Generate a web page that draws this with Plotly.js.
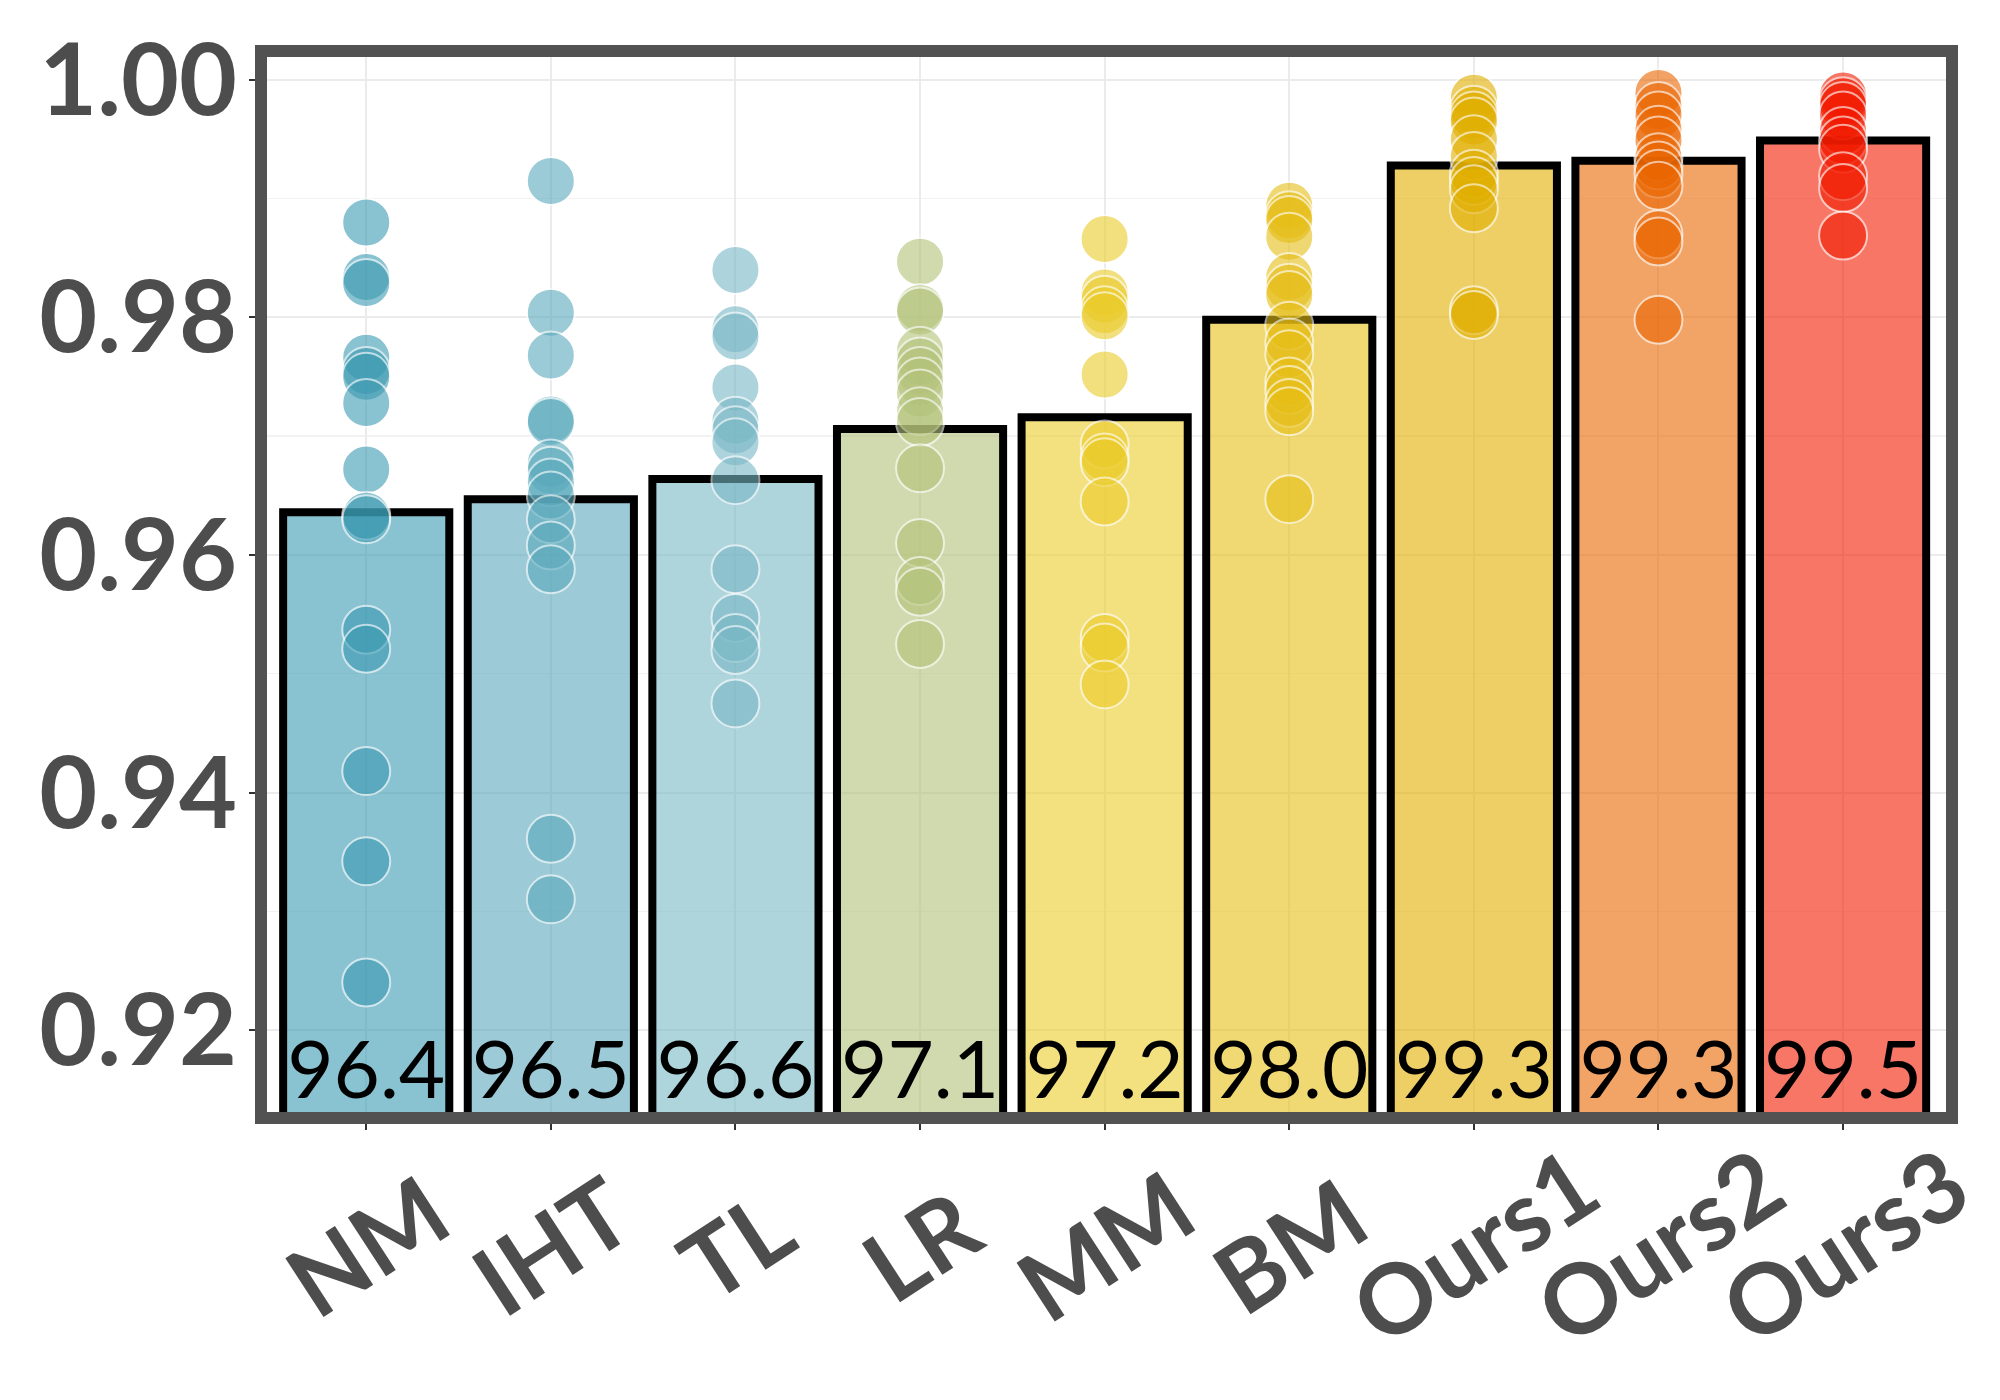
<!DOCTYPE html>
<html>
<head>
<meta charset="utf-8">
<script src="https://cdn.plot.ly/plotly-3.0.1.min.js"></script>
<style>
  html, body { margin: 0; padding: 0; background: #ffffff; }
  #chart { width: 2000px; height: 1400px; }
</style>
</head>
<body>
<div id="chart"></div>
<script>
// ---- data ----
const methods = ["NM", "IHT", "TL", "LR", "MM", "BM", "Ours1", "Ours2", "Ours3"];
const barValues = [0.9636, 0.9647, 0.9664, 0.9706, 0.9716, 0.9798, 0.9928, 0.9932, 0.9949];

const nmPoints    = [0.9880, 0.9834, 0.9829, 0.9766, 0.9755, 0.9750, 0.9728, 0.9672, 0.9633, 0.9630, 0.9537, 0.9521, 0.9418, 0.9342, 0.9240];
const ihtPoints   = [0.9915, 0.9804, 0.9768, 0.9714, 0.9712, 0.9677, 0.9671, 0.9661, 0.9650, 0.9630, 0.9608, 0.9588, 0.9361, 0.9310];
const tlPoints    = [0.9840, 0.9790, 0.9784, 0.9741, 0.9713, 0.9705, 0.9695, 0.9663, 0.9588, 0.9547, 0.9530, 0.9520, 0.9475];
const lrPoints    = [0.9847, 0.9808, 0.9805, 0.9772, 0.9763, 0.9755, 0.9746, 0.9736, 0.9721, 0.9712, 0.9673, 0.9610, 0.9578, 0.9569, 0.9525];
const mmPoints    = [0.9866, 0.9821, 0.9815, 0.9806, 0.9801, 0.9752, 0.9693, 0.9682, 0.9678, 0.9645, 0.9530, 0.9522, 0.9491];
const bmPoints    = [0.9894, 0.9886, 0.9882, 0.9868, 0.9834, 0.9825, 0.9819, 0.9793, 0.9779, 0.9769, 0.9746, 0.9739, 0.9728, 0.9721, 0.9647];
const ours1Points = [0.9985, 0.9975, 0.9970, 0.9965, 0.9950, 0.9936, 0.9921, 0.9915, 0.9908, 0.9892, 0.9806, 0.9802];
const ours2Points = [0.9989, 0.9978, 0.9970, 0.9958, 0.9949, 0.9935, 0.9928, 0.9921, 0.9911, 0.9870, 0.9864, 0.9798];
const ours3Points = [0.9987, 0.9982, 0.9978, 0.9970, 0.9957, 0.9949, 0.9942, 0.9919, 0.9909, 0.9869];

const yTickValues = [0.92, 0.94, 0.96, 0.98, 1.00];

// ---- styling ----
const palette = ["#3B9AB2", "#5AA9BC", "#78B7C5", "#B2C278", "#EBCC2A", "#E6BE15", "#E1AF00", "#EA6500", "#F21A00"];
const pointSets = [nmPoints, ihtPoints, tlPoints, lrPoints, mmPoints, bmPoints, ours1Points, ours2Points, ours3Points];

function rgba(hex, a) {
  const r = parseInt(hex.slice(1, 3), 16), g = parseInt(hex.slice(3, 5), 16), b = parseInt(hex.slice(5, 7), 16);
  return `rgba(${r},${g},${b},${a})`;
}

const textGrey = "#4d4d4d";
const labelY = 0.9160;

const traces = [];
traces.push({
  type: "bar",
  x: methods,
  y: barValues,
  width: 0.9,
  marker: { color: palette.map(c => rgba(c, 0.6)), line: { color: "#000000", width: 8 } },
  hoverinfo: "skip"
});

pointSets.forEach((pts, i) => {
  traces.push({
    type: "scatter",
    mode: "markers",
    x: pts.map(() => methods[i]),
    y: pts,
    marker: { size: 48, color: palette[i], opacity: 0.6, line: { color: "#ffffff", width: 2 } },
    hoverinfo: "skip"
  });
});

traces.push({
  type: "scatter",
  mode: "text",
  x: methods,
  y: methods.map(() => labelY),
  text: barValues.map(v => (v * 100).toFixed(1)),
  textposition: "middle center",
  textfont: { family: "Lato", size: 80, color: "#000000" },
  hoverinfo: "skip"
});

const annotations = methods.map(m => ({
  x: m, xref: "x",
  y: -0.1185, yref: "paper",
  text: m,
  showarrow: false,
  textangle: -33,
  xanchor: "center", yanchor: "middle",
  font: { family: "Lato", size: 97, weight: "bold", color: textGrey }
}));

const layout = {
  width: 2000, height: 1400,
  margin: { l: 261, r: 48, t: 51, b: 282 },
  paper_bgcolor: "#ffffff",
  plot_bgcolor: "#ffffff",
  showlegend: false,
  xaxis: {
    type: "category",
    categoryarray: methods,
    range: [-0.57, 8.59],
    showgrid: true, gridcolor: "#ebebeb", gridwidth: 2,
    ticks: "outside", ticklen: 11, tickwidth: 2, tickcolor: "#333333",
    showticklabels: false,
    zeroline: false, showline: false
  },
  yaxis: {
    range: [0.91259, 1.00244],
    tickmode: "array",
    tickvals: yTickValues,
    ticktext: yTickValues.map(v => v.toFixed(2)),
    showgrid: true, gridcolor: "#ebebeb", gridwidth: 2,
    minor: { dtick: 0.01, tick0: 0.91, showgrid: true, gridcolor: "#f2f2f2", gridwidth: 1.5 },
    ticks: "outside", ticklen: 11, tickwidth: 2, tickcolor: "#333333",
    ticklabelstandoff: -8,
    tickfont: { family: "Lato", size: 100, weight: "bold", color: textGrey },
    zeroline: false, showline: false
  },
  shapes: [{
    type: "rect", xref: "paper", yref: "paper",
    x0: 0, x1: 1, y0: 0, y1: 1,
    line: { color: "#525252", width: 12 },
    fillcolor: "rgba(0,0,0,0)",
    layer: "above"
  }],
  annotations: annotations
};

Plotly.newPlot("chart", traces, layout, { displayModeBar: false, staticPlot: true });
</script>
</body>
</html>
